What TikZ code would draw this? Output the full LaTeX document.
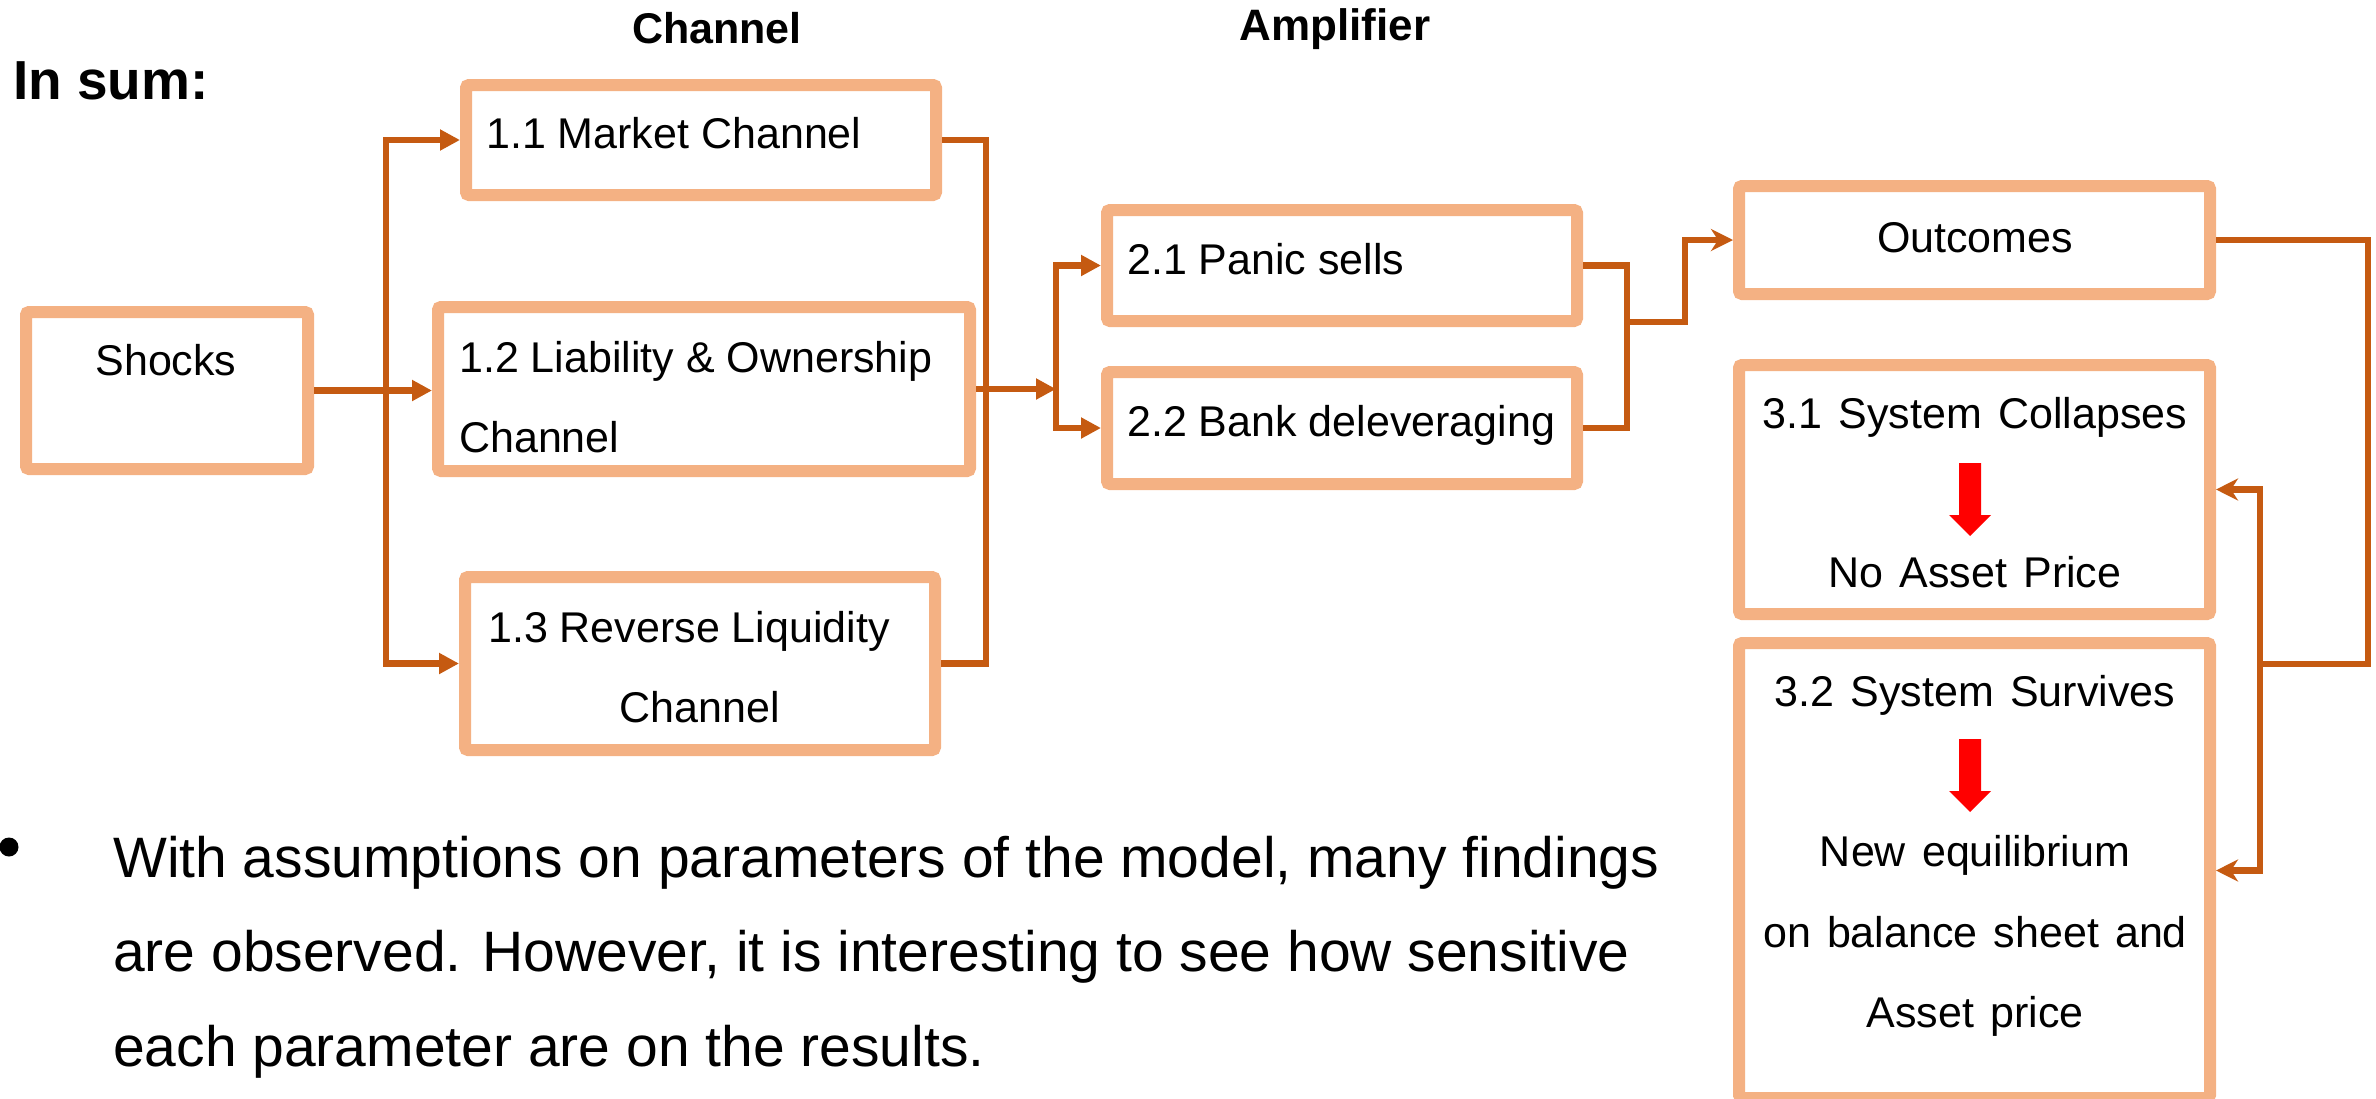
\documentclass[tikz,border=0pt]{standalone}
\usepackage{fontspec}
\setmainfont{Liberation Sans}
\newfontfamily\widesans[WordSpace=1.35]{Liberation Sans}
\usetikzlibrary{arrows.meta}
\definecolor{boxline}{HTML}{F4B183}
\definecolor{connline}{HTML}{C55A11}
\definecolor{redarrow}{HTML}{FF0000}
\begin{document}
\begin{tikzpicture}[x=1pt,y=-1pt,
  obox/.style={draw=boxline, line width=12pt, fill=white, rectangle, rounded corners=3pt, outer sep=6pt, inner sep=0pt},
  conn/.style={draw=connline, line width=6.5pt},
  flowarrow/.style={conn, -{Triangle[length=20pt,width=20pt]}},
  twoarrow/.style={conn, {Triangle[length=20pt,width=20pt]}-{Triangle[length=20pt,width=20pt]}},
  backarrow/.style={conn, {Stealth[length=22pt,width=22pt,inset=7pt]}-{Stealth[length=22pt,width=22pt,inset=7pt]}},
  outarrow/.style={conn, -{Stealth[length=22pt,width=22pt,inset=7pt]}},
  txt/.style={font=\fontsize{43}{50}\selectfont, inner sep=0pt, anchor=base west},
  txtc/.style={font=\fontsize{43}{50}\selectfont, inner sep=0pt, anchor=base},
  rtxt/.style={font=\widesans\fontsize{43}{50}\selectfont, inner sep=0pt, anchor=base},
  bigtxt/.style={font=\fontsize{57}{66}\selectfont, inner sep=0pt, anchor=base west},
  head/.style={font=\bfseries\fontsize{43}{50}\selectfont, inner sep=0pt, anchor=base}
]
\useasboundingbox (0,0) rectangle (2376,1098);

% titles
\node[font=\bfseries\fontsize{55}{64}\selectfont, inner sep=0pt, anchor=base west] (insum) at (13,99) {In sum:};
\node[head] (hchan) at (717,43) {Channel};
\node[head, font=\bfseries\fontsize{44}{50}\selectfont] (hamp) at (1335,40) {Amplifier};

% boxes
\node[obox, minimum width=282pt, minimum height=157pt] (shocks) at (167,390.5) {};
\node[obox, minimum width=470pt, minimum height=110pt] (b11) at (701,140) {};
\node[obox, minimum width=532pt, minimum height=164pt] (b12) at (704,389) {};
\node[obox, minimum width=470pt, minimum height=173pt] (b13) at (700,663.5) {};
\node[obox, minimum width=470pt, minimum height=111pt] (b21) at (1342,265.5) {};
\node[obox, minimum width=470pt, minimum height=112pt] (b22) at (1342,428) {};
\node[obox, minimum width=471pt, minimum height=108pt] (outc) at (1974.5,240) {};
\node[obox, minimum width=471pt, minimum height=249pt] (b31) at (1974.5,489.5) {};
\node[obox, minimum width=471pt, minimum height=455pt] (b32) at (1974.5,870.5) {};

% box texts
\node[txtc] (tshocks) at (166,375) {Shocks};
\node[txt] (t11) at (486,148) {1.1 Market Channel};
\node[txt] (t12a) at (459,372) {1.2 Liability \& Ownership};
\node[txt] (t12b) at (459,452) {Channel};
\node[txt] (t13a) at (488,642) {1.3 Reverse Liquidity};
\node[txtc] (t13b) at (700,722) {Channel};
\node[txt] (t21) at (1127,274) {2.1 Panic sells};
\node[txt] (t22) at (1127,436) {2.2 Bank deleveraging};
\node[rtxt] (tout) at (1975,252) {Outcomes};
\node[rtxt] (t31) at (1975,428) {3.1 System Collapses};
\node[rtxt] (t31b) at (1975,587) {No Asset Price};
\node[rtxt] (t32) at (1975,706) {3.2 System Survives};
\node[rtxt] (t32b) at (1975,866) {New equilibrium};
\node[rtxt] (t32c) at (1975,947) {on balance sheet and};
\node[rtxt] (t32d) at (1975,1027) {Asset price};

% red arrows
\fill[redarrow] (1959,463) -- (1981,463) -- (1981,515) -- (1991,515) -- (1970,536) -- (1949,515) -- (1959,515) -- cycle;
\fill[redarrow] (1959,739) -- (1981,739) -- (1981,791) -- (1991,791) -- (1970,812) -- (1949,791) -- (1959,791) -- cycle;

% connector coordinates
\coordinate (lx) at (386,0);
\coordinate (rx) at (986,0);
\coordinate (jx) at (1056,0);
\coordinate (kx) at (1627,0);
\coordinate (km) at (1627,322);
\coordinate (mx) at (1685,0);
\coordinate (ox) at (2368,0);
\coordinate (om) at (2368,664);
\coordinate (vm) at (2260,664);
\coordinate (vx) at (2260,0);

% connectors
\draw[flowarrow] (shocks.east) -- (shocks.east -| b12.west);
\draw[twoarrow] (b11.west) -- (lx |- b11.west) -- (lx |- b13.west) -- (b13.west);
\draw[conn] (b11.east) -- (rx |- b11.east) -- (rx |- b13.east) -- (b13.east);
\draw[flowarrow] (b12.east) -- (jx |- b12.east);
\draw[twoarrow] (b21.west) -- (jx |- b21.west) -- (jx |- b22.west) -- (b22.west);
\draw[conn] (b21.east) -- (kx |- b21.east) -- (kx |- b22.east) -- (b22.east);
\draw[outarrow] (km) -- (mx |- km) -- (mx |- outc.west) -- (outc.west);
\draw[conn] (outc.east) -- (ox |- outc.east) -- (om) -- (vm);
\draw[backarrow] (b31.east) -- (vx |- b31.east) -- (vx |- b32.east) -- (b32.east);

% bullet text
\fill (9,847) circle (9.5);
\node[bigtxt] (l1) at (113,877) {With assumptions on parameters of the model, many findings};
\node[bigtxt] (l2) at (113,971) {are observed. However, it is interesting to see how sensitive};
\node[bigtxt] (l3) at (113,1066) {each parameter are on the results.};
\end{tikzpicture}
\end{document}
